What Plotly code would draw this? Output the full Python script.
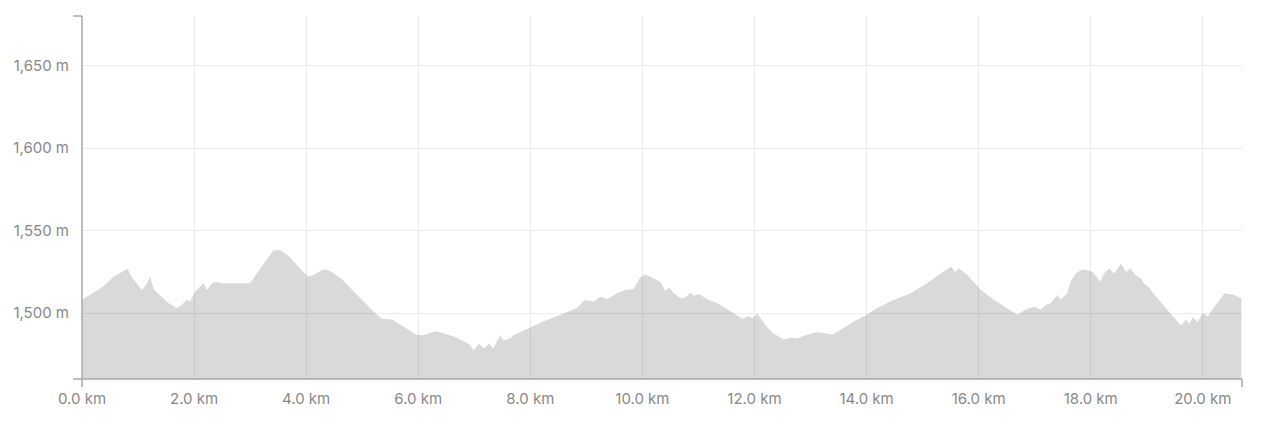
import plotly.graph_objects as go

# elevation profile
dist_km = [0.00, 0.10, 0.20, 0.38, 0.56, 0.71, 0.82, 0.86, 0.98, 1.07, 1.16, 1.21, 1.29, 1.42,
           1.54, 1.69, 1.78, 1.87, 1.93, 2.02, 2.17, 2.23, 2.32, 2.40, 2.49, 2.67, 3.00, 3.18,
           3.42, 3.54, 3.71, 3.86, 4.04, 4.13, 4.31, 4.43, 4.64, 4.88, 5.17, 5.35, 5.53, 5.71,
           5.95, 6.09, 6.30, 6.42, 6.66, 6.84, 6.93, 6.99, 7.08, 7.17, 7.26, 7.34, 7.46, 7.52,
           7.64, 7.70, 8.00, 8.24, 8.54, 8.83, 8.98, 9.13, 9.25, 9.37, 9.55, 9.70, 9.84, 9.96,
           10.05, 10.20, 10.32, 10.41, 10.48, 10.56, 10.68, 10.77, 10.86, 10.92, 11.01, 11.15,
           11.33, 11.48, 11.63, 11.78, 11.90, 11.97, 12.05, 12.20, 12.32, 12.52, 12.64, 12.76,
           12.91, 13.12, 13.39, 13.57, 13.80, 13.98, 14.19, 14.49, 14.79, 15.08, 15.32, 15.51,
           15.58, 15.65, 15.80, 16.04, 16.27, 16.51, 16.69, 16.81, 16.99, 17.11, 17.20, 17.29,
           17.34, 17.41, 17.46, 17.58, 17.64, 17.73, 17.85, 18.00, 18.06, 18.17, 18.24, 18.33,
           18.42, 18.54, 18.63, 18.71, 18.80, 18.89, 18.95, 19.04, 19.19, 19.37, 19.49, 19.61,
           19.70, 19.76, 19.82, 19.91, 20.00, 20.09, 20.21, 20.39, 20.55, 20.69]
elev_m = [1508, 1510, 1512, 1516, 1522, 1525, 1527, 1523, 1518, 1514, 1518, 1522, 1514, 1510,
          1506, 1503, 1505, 1508, 1507, 1513, 1518, 1514, 1518, 1519, 1518, 1518, 1518, 1527,
          1538, 1538, 1534, 1528, 1522, 1523, 1526.5, 1525.5, 1520.5, 1512, 1502, 1496.5, 1496, 1492.5,
          1487, 1486.5, 1489, 1488, 1485.5, 1482.5, 1480.5, 1477.5, 1481.5, 1478.5, 1481.5, 1478.5, 1486.5, 1483.5,
          1484.5, 1486.5, 1491.5, 1495, 1499, 1503, 1508, 1507, 1510, 1508.5, 1512, 1514, 1514.5, 1521.5,
          1523.5, 1521, 1519, 1513.5, 1515.5, 1512, 1509, 1509.5, 1512.5, 1510.5, 1511.5, 1508.5,
          1506, 1503, 1500, 1496.5, 1498, 1497, 1499.5, 1492.5, 1488, 1484, 1485, 1484.5,
          1486.5, 1488.5, 1487, 1490.5, 1495.5, 1498.5, 1503, 1508, 1512, 1518, 1524, 1528,
          1525, 1527, 1523, 1514, 1508, 1503, 1499, 1501.5, 1504, 1502, 1505, 1506,
          1508, 1511, 1508, 1512, 1519, 1524, 1526.5, 1525.5, 1524, 1519, 1524, 1527,
          1524, 1530, 1525, 1527, 1523, 1521, 1518, 1515.5, 1509, 1502, 1497, 1492.5,
          1496, 1493.5, 1497.5, 1494.5, 1500, 1498, 1504, 1512, 1511, 1509]

x_range = [0, 20.7]
y_range = [1460, 1680]

axis_color = "#a8a8a8"
label_color = "#888888"

fig = go.Figure()
fig.add_trace(go.Scatter(
    x=dist_km,
    y=elev_m,
    mode="lines",
    fill="tozeroy",
    fillcolor="rgba(0,0,0,0.15)",
    line=dict(color="rgba(0,0,0,0)", width=0),
    hoverinfo="skip",
    showlegend=False,
))

# outer ticks at the ends of both axes (d3 style)
px_w = 1160
px_h = 363
tk = 9
shapes = [
    dict(type="line", xref="paper", yref="paper", x0=0, x1=0, y0=0, y1=1,
         line=dict(color=axis_color, width=1.5)),
    dict(type="line", xref="paper", yref="paper", x0=-tk / px_w, x1=0, y0=1, y1=1,
         line=dict(color=axis_color, width=1.5)),
    dict(type="line", xref="paper", yref="paper", x0=-tk / px_w, x1=1, y0=0, y1=0,
         line=dict(color=axis_color, width=1.5)),
    dict(type="line", xref="paper", yref="paper", x0=0, x1=0, y0=0, y1=-8 / px_h,
         line=dict(color=axis_color, width=1.5)),
    dict(type="line", xref="paper", yref="paper", x0=1, x1=1, y0=0, y1=-8 / px_h,
         line=dict(color=axis_color, width=1.5)),
]

# page body has an 8px margin, so the figure is sized to fit inside it
fig.update_layout(
    width=1264,
    height=432,
    margin=dict(l=74, r=30, t=8, b=61, autoexpand=False),
    paper_bgcolor="white",
    plot_bgcolor="white",
    font=dict(family="Inter, Roboto, sans-serif", size=15, color=label_color),
    shapes=shapes,
    xaxis=dict(
        range=x_range,
        tick0=0,
        dtick=2,
        tickformat=".1f",
        ticksuffix=" km",
        showgrid=True,
        gridcolor="#ececec",
        gridwidth=1,
        zeroline=False,
        showline=False,
        ticks="",
        ticklabelstandoff=9,
        automargin=False,
    ),
    yaxis=dict(
        range=y_range,
        tick0=0,
        dtick=50,
        tickformat=",",
        ticksuffix=" m",
        showgrid=True,
        gridcolor="#ececec",
        gridwidth=1,
        zeroline=False,
        showline=False,
        ticks="",
        ticklabelstandoff=12,
        automargin=False,
    ),
)

fig.write_html("out.html")
